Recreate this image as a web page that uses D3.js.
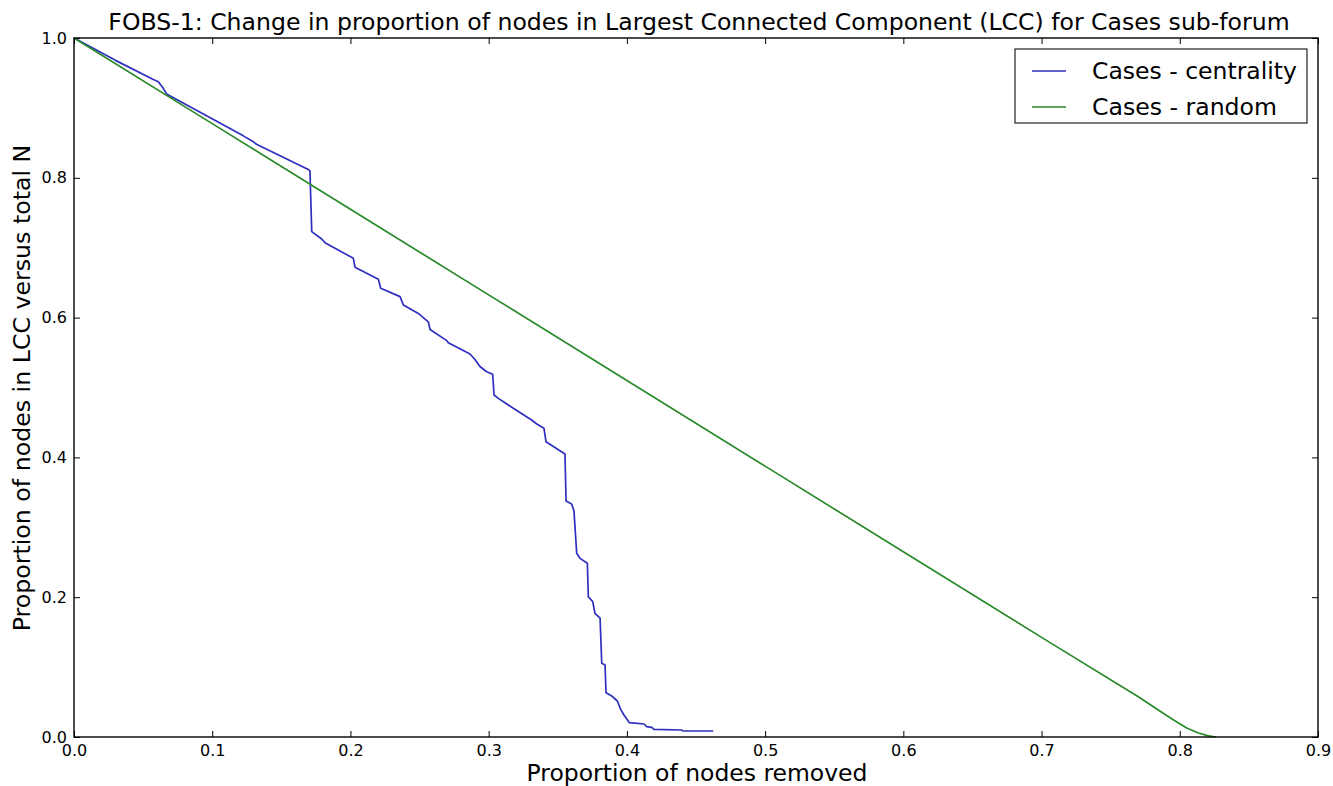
<!DOCTYPE html>
<html>
<head>
<meta charset="utf-8">
<script src="https://cdn.jsdelivr.net/npm/d3@7"></script>
<style>
  body { margin: 0; background: #fff; }
  text { font-family: "DejaVu Sans", sans-serif; fill: #000; }
</style>
</head>
<body>
<svg id="chart" width="1333" height="786"></svg>
<script>
// ---- data ----
const centralityX = [0, 0.03, 0.057, 0.061, 0.0646, 0.067, 0.1225, 0.1297, 0.132, 0.1695, 0.1707, 0.172,
  0.1792, 0.1816, 0.2021, 0.2033, 0.2202, 0.2219, 0.2359, 0.2383, 0.2491, 0.2563, 0.2576, 0.2697, 0.2708,
  0.2865, 0.2901, 0.2937, 0.2986, 0.3029, 0.3039, 0.3070, 0.3178, 0.3311, 0.3348, 0.340, 0.3415, 0.3552,
  0.356, 0.360, 0.3617, 0.3637, 0.3661, 0.3714, 0.3721, 0.3753, 0.3769, 0.3806, 0.3818, 0.3842, 0.3849,
  0.389, 0.3931, 0.3955, 0.3979, 0.4018, 0.4124, 0.4143, 0.418, 0.4196, 0.4397, 0.4404, 0.4625];
const centralityY = [1.0, 0.968, 0.941, 0.9375, 0.928, 0.920, 0.860, 0.8517, 0.848, 0.812, 0.810, 0.723,
  0.7124, 0.7072, 0.6848, 0.672, 0.6548, 0.642, 0.630, 0.618, 0.606, 0.594, 0.583, 0.567, 0.564,
  0.548, 0.540, 0.530, 0.5226, 0.5189, 0.4893, 0.4845, 0.4702, 0.4535, 0.4478, 0.4416, 0.4225, 0.4049,
  0.3376, 0.3333, 0.3238, 0.2628, 0.2556, 0.2485, 0.2007, 0.1936, 0.177, 0.170, 0.1054, 0.103, 0.0634,
  0.0587, 0.0515, 0.0396, 0.0315, 0.0205, 0.0186, 0.0148, 0.0139, 0.011, 0.010, 0.0086, 0.0086];
const randomX = [0, 0.1, 0.2, 0.3, 0.4, 0.5, 0.6, 0.7, 0.77, 0.785, 0.795, 0.805, 0.813, 0.82, 0.826];
const randomY = [1.0, 0.8775, 0.755, 0.6325, 0.51, 0.3875, 0.265, 0.1425, 0.0575, 0.038, 0.025, 0.013, 0.006, 0.002, 0];
const xTicks = [0, 0.1, 0.2, 0.3, 0.4, 0.5, 0.6, 0.7, 0.8, 0.9];
const yTicks = [0, 0.2, 0.4, 0.6, 0.8, 1.0];
const seriesNames = ["Cases - centrality", "Cases - random"];
const titleText = "FOBS-1: Change in proportion of nodes in Largest Connected Component (LCC) for Cases sub-forum";
const xLabelText = "Proportion of nodes removed";
const yLabelText = "Proportion of nodes in LCC versus total N";

// ---- layout ----
const L = 74, T = 38, R = 1318, B = 737;
const blue = "#2f2fbf", green = "#2a8a2a";

const svg = d3.select("#chart");
svg.append("rect").attr("width", 1333).attr("height", 786).attr("fill", "#fff");

const x = d3.scaleLinear().domain([0, 0.9]).range([L, R]);
const y = d3.scaleLinear().domain([0, 1]).range([B, T]);

const fmt = d3.format(".1f");
function styleAxis(g) {
  g.select(".domain").remove();
  g.selectAll(".tick line").attr("stroke", "#000").attr("stroke-width", 1);
  g.selectAll(".tick text").style("font-family", "DejaVu Sans").style("font-size", "16px").attr("fill", "#000");
}
svg.append("g").attr("transform", `translate(0,${B})`)
  .call(d3.axisBottom(x).tickValues(xTicks).tickFormat(fmt).tickSize(-6).tickPadding(8)).call(styleAxis);
svg.append("g").attr("transform", `translate(0,${T})`)
  .call(d3.axisTop(x).tickValues(xTicks).tickFormat("").tickSize(-6)).call(styleAxis);
svg.append("g").attr("transform", `translate(${L},0)`)
  .call(d3.axisLeft(y).tickValues(yTicks).tickFormat(fmt).tickSize(-6).tickPadding(7)).call(styleAxis);
svg.append("g").attr("transform", `translate(${R},0)`)
  .call(d3.axisRight(y).tickValues(yTicks).tickFormat("").tickSize(-6)).call(styleAxis);

const line = d3.line().x(d => x(d[0])).y(d => y(d[1]));
svg.append("path").datum(centralityX.map((v, i) => [v, centralityY[i]]))
  .attr("d", line).attr("fill", "none").attr("stroke", blue).attr("stroke-width", 1.7).attr("stroke-linejoin", "round");
svg.append("path").datum(randomX.map((v, i) => [v, randomY[i]]))
  .attr("d", line).attr("fill", "none").attr("stroke", green).attr("stroke-width", 1.7).attr("stroke-linejoin", "round");

svg.append("rect").attr("x", L).attr("y", T).attr("width", R - L).attr("height", B - T)
  .attr("fill", "none").attr("stroke", "#000").attr("stroke-width", 1.4);

function fitText(sel, target, base) {
  sel.style("font-size", base + "px");
  const len = sel.node().getComputedTextLength();
  sel.style("font-size", (base * target / len) + "px");
}

const title = svg.append("text").attr("x", 699).attr("y", 30).attr("text-anchor", "middle").text(titleText);
fitText(title, 1182, 22);

const xl = svg.append("text").attr("x", 697).attr("y", 781).attr("text-anchor", "middle").text(xLabelText);
fitText(xl, 341, 22);

const yl = svg.append("text").attr("transform", `translate(30,388) rotate(-90)`).attr("text-anchor", "middle").text(yLabelText);
fitText(yl, 487, 22);

// legend
const leg = svg.append("g");
leg.append("rect").attr("x", 1015).attr("y", 49).attr("width", 292).attr("height", 74)
  .attr("fill", "#fff").attr("stroke", "#222").attr("stroke-width", 1.2);
[blue, green].forEach((c, i) => {
  const yy = 71 + i * 36;
  leg.append("line").attr("x1", 1032).attr("x2", 1066).attr("y1", yy).attr("y2", yy)
    .attr("stroke", c).attr("stroke-width", 1.3);
  const t = leg.append("text").attr("x", 1092).attr("y", yy + 8).text(seriesNames[i]);
  fitText(t, i === 0 ? 205 : 185, 22);
});
</script>
</body>
</html>
